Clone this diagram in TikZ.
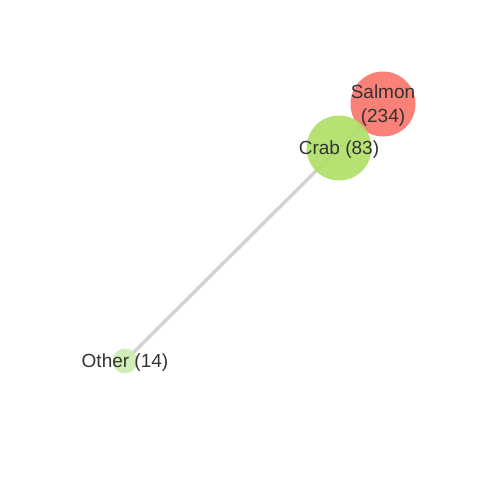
\documentclass[tikz,border=0pt]{standalone}
\usepackage{fontspec}
\setmainfont{Liberation Sans}
\definecolor{salmonc}{HTML}{F8766D}
\definecolor{crabc}{HTML}{B0E068}
\definecolor{otherc}{HTML}{CDEDB3}
\definecolor{edgec}{HTML}{D3D3D3}
\definecolor{txt}{HTML}{333333}
\begin{document}
\begin{tikzpicture}[x=1pt,y=-1pt,
  vert/.style={circle,inner sep=0pt,minimum size=#1,fill opacity=0.92,draw=none},
  lbl/.style={text=txt,font=\fontsize{19}{24}\selectfont,align=center,inner sep=0pt,yshift=-1.5pt},
  edge/.style={draw=edgec,line width=3.5pt}]
\useasboundingbox (0,0) rectangle (480,480);
\coordinate (s) at (383,104);
\coordinate (c) at (339,148);
\coordinate (o) at (125,361);
\draw[edge] (c) -- (o);
\draw[edge] (c) -- (s);
\node[vert=65pt,fill=salmonc] (salmon) at (s) {};
\node[vert=65pt,fill=crabc] (crab) at (c) {};
\node[vert=25pt,fill=otherc] (other) at (o) {};
\node[lbl] (ls) at (s) {Salmon\\(234)};
\node[lbl] (lc) at (c) {Crab (83)};
\node[lbl] (lo) at (o) {Other (14)};
\end{tikzpicture}
\end{document}
